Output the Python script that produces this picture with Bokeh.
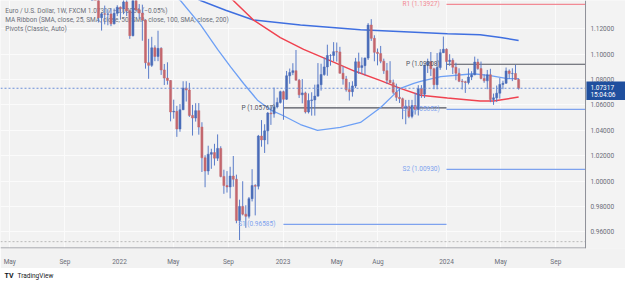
import pandas as pd
from bokeh.plotting import figure
from bokeh.models import (ColumnDataSource, FixedTicker, Label, Range1d)
from bokeh.core.properties import value
from bokeh.layouts import column
from bokeh.embed import file_html
from bokeh.resources import INLINE

# ---------------- data (EUR/USD weekly) ----------------
first_week = "2021-11-01"
opens = [1.1558,1.1567,1.1445,1.1288,1.1318,1.1315,1.1317,1.1239,1.1322,
         1.1370,1.1359,1.1412,1.1342,1.1146,1.1451,1.1350,1.1324,1.1270,1.0933,1.0912,1.1050,1.0982,
         1.1046,1.0876,1.0812,1.0793,1.0545,1.0550,1.0411,1.0562,1.0733,1.0718,1.0518,1.0497,1.0555,
         1.0426,1.0184,1.0080,1.0212,1.0225,1.0181,1.0258,1.0037,0.9965,0.9954,1.0040,1.0015,0.9690,
         0.9801,0.9740,0.9723,0.9862,0.9965,0.9960,1.0355,1.0325,1.0396,1.0536,1.0530,1.0585,1.0620,
         1.0705,1.0645,1.0830,1.0855,1.0870,1.0795,1.0680,1.0695,1.0545,1.0635,1.0640,1.0670,1.0760,
         1.0840,1.0900,1.0990,1.0990,1.1020,1.1018,1.0850,1.0805,1.0720,1.0705,1.0750,1.0940,1.0895,
         1.0910,1.0970,1.1230,1.1125,1.1015,1.1005,1.0945,1.0870,1.0795,1.0775,1.0700,1.0660,1.0650,
         1.0575,1.0590,1.0510,1.0595,1.0565,1.0730,1.0685,1.0915,1.0940,1.0885,1.0760,1.0895,1.1012,
         1.1039,1.0942,1.0952,1.0897,1.0850,1.0787,1.0783,1.0777,1.0820,1.0838,1.0938,1.0887,1.0808,
         1.0790,1.0838,1.0643,1.0656,1.0693,1.0762,1.0771,1.0868,1.0847,1.0848,1.0801]
highs = [1.1616,1.1608,1.1464,1.1328,1.1383,1.1355,1.1360,1.1360,1.1386,
         1.1376,1.1482,1.1436,1.1346,1.1483,1.1495,1.1395,1.1390,1.1275,1.1121,1.1137,1.1070,1.1185,
         1.1055,1.0923,1.0936,1.0796,1.0642,1.0593,1.0607,1.0787,1.0787,1.0774,1.0601,1.0614,1.0615,
         1.0464,1.0204,1.0279,1.0255,1.0294,1.0368,1.0275,1.0090,1.0079,1.0113,1.0198,1.0051,0.9854,
         0.9999,0.9810,0.9875,1.0094,0.9976,1.0364,1.0481,1.0448,1.0545,1.0595,1.0737,1.0658,1.0713,
         1.0713,1.0868,1.0887,1.0929,1.1033,1.0805,1.0804,1.0705,1.0691,1.0700,1.0760,1.0930,1.0925,
         1.0973,1.1075,1.1000,1.1095,1.1092,1.1058,1.0904,1.0829,1.0780,1.0787,1.0971,1.1012,1.0975,
         1.0973,1.1245,1.1276,1.1149,1.1045,1.1065,1.0965,1.0931,1.0945,1.0800,1.0768,1.0736,1.0658,
         1.0640,1.0640,1.0640,1.0695,1.0756,1.0756,1.0918,1.0965,1.1017,1.0894,1.1009,1.1040,1.1139,
         1.1046,1.1000,1.0968,1.0933,1.0889,1.0805,1.0790,1.0888,1.0866,1.0981,1.0964,1.0942,1.0842,
         1.0876,1.0885,1.0690,1.0753,1.0812,1.0791,1.0895,1.0880,1.0889,1.0916,1.0810]
lows = [1.1513,1.1432,1.1250,1.1186,1.1235,1.1228,1.1221,1.1235,1.1300,
        1.1272,1.1315,1.1301,1.1121,1.1140,1.1340,1.1280,1.1106,1.0886,1.0806,1.0900,1.0945,1.0945,
        1.0837,1.0757,1.0760,1.0471,1.0492,1.0349,1.0389,1.0560,1.0627,1.0506,1.0359,1.0469,1.0366,
        1.0072,0.9952,1.0050,1.0097,1.0123,1.0159,1.0030,0.9900,0.9910,0.9864,0.9956,0.9668,0.9536,
        0.9730,0.9632,0.9706,0.9840,0.9730,0.9935,1.0271,1.0222,1.0290,1.0443,1.0500,1.0573,1.0611,
        1.0483,1.0640,1.0767,1.0835,1.0794,1.0655,1.0613,1.0533,1.0533,1.0516,1.0516,1.0665,1.0713,
        1.0830,1.0830,1.0910,1.0943,1.0942,1.0848,1.0760,1.0705,1.0635,1.0666,1.0733,1.0845,1.0844,
        1.0833,1.0955,1.1105,1.0944,1.0912,1.0929,1.0845,1.0765,1.0772,1.0686,1.0632,1.0616,1.0488,
        1.0448,1.0496,1.0495,1.0524,1.0517,1.0656,1.0655,1.0852,1.0828,1.0724,1.0723,1.0877,1.1009,
        1.0877,1.0908,1.0844,1.0795,1.0780,1.0722,1.0695,1.0762,1.0796,1.0834,1.0877,1.0802,1.0775,
        1.0724,1.0622,1.0601,1.0624,1.0650,1.0724,1.0767,1.0805,1.0788,1.0800,1.0721]
closes = [1.1567,1.1445,1.1288,1.1318,1.1315,1.1317,1.1239,1.1322,1.1370,
          1.1359,1.1412,1.1342,1.1146,1.1451,1.1350,1.1324,1.1270,1.0933,1.0912,1.1050,1.0982,1.1046,
          1.0876,1.0812,1.0793,1.0545,1.0550,1.0411,1.0562,1.0733,1.0718,1.0518,1.0497,1.0555,1.0426,
          1.0184,1.0080,1.0212,1.0225,1.0181,1.0258,1.0037,0.9965,0.9954,1.0040,1.0015,0.9690,0.9801,
          0.9740,0.9723,0.9862,0.9965,0.9960,1.0355,1.0325,1.0396,1.0536,1.0530,1.0585,1.0620,1.0705,
          1.0645,1.0830,1.0855,1.0870,1.0795,1.0680,1.0695,1.0545,1.0635,1.0640,1.0670,1.0760,1.0840,
          1.0900,1.0990,1.0990,1.1020,1.1018,1.0850,1.0805,1.0720,1.0705,1.0750,1.0940,1.0895,1.0910,
          1.0970,1.1230,1.1125,1.1015,1.1005,1.0945,1.0870,1.0795,1.0775,1.0700,1.0660,1.0650,1.0575,
          1.0590,1.0510,1.0595,1.0565,1.0730,1.0685,1.0915,1.0940,1.0885,1.0760,1.0895,1.1012,1.1039,
          1.0942,1.0952,1.0897,1.0850,1.0787,1.0783,1.0777,1.0820,1.0838,1.0938,1.0887,1.0808,1.0790,
          1.0838,1.0643,1.0656,1.0693,1.0762,1.0771,1.0868,1.0847,1.0848,1.0801,1.07317]

# Moving-average ribbon
ma_fast_dates = ["2022-05-06","2022-05-17","2022-07-01","2022-08-08","2022-09-06","2022-10-05",
                 "2022-11-05","2022-12-04","2023-01-02","2023-02-09","2023-03-19","2023-05-09",
                 "2023-06-23","2023-08-07","2023-09-20","2023-10-20","2023-11-04","2023-12-19",
                 "2024-03-01","2024-04-08","2024-05-16","2024-06-10"]
ma_fast_vals = [1.1446,1.1423,1.1231,1.1038,1.0900,1.0769,1.0638,1.0562,1.0515,1.0446,1.0400,
                1.0423,1.0462,1.0580,1.0731,1.0770,1.0785,1.0823,1.0846,1.0831,1.0808,1.0808]
ma_mid_dates = ["2022-09-01","2022-09-12","2022-10-27","2022-12-26","2023-02-16","2023-04-24",
                "2023-06-08","2023-08-07","2023-09-20","2023-11-04","2024-01-03","2024-03-16",
                "2024-04-15","2024-06-10"]
ma_mid_vals = [1.1454,1.1423,1.1269,1.1131,1.1038,1.0938,1.0869,1.0792,1.0731,1.0677,1.0654,
               1.0631,1.0631,1.0662]
ma_slow_dates = ["2022-06-08","2022-07-01","2022-08-26","2022-10-27","2023-02-09","2023-06-23",
                 "2024-01-03","2024-03-16","2024-05-01","2024-06-10"]
ma_slow_vals = [1.1462,1.1423,1.1346,1.1269,1.1231,1.1192,1.1162,1.1154,1.1131,1.1108]

# Yearly classic pivots
piv23_names = ["P", "S1"]
piv23_vals = [1.05767, 0.96585]
piv24_names = ["R1", "P", "S1", "S2"]
piv24_vals = [1.13927, 1.09208, 1.05652, 1.00930]
last_price = 1.07317
last_time = "15:04:06"
range_low = 0.9523

y_ticks = [0.96, 0.98, 1.00, 1.02, 1.04, 1.06, 1.08, 1.10, 1.12]
x_tick_dates = ["2021-05-01","2021-09-01","2022-01-01","2022-05-01","2022-09-01","2023-01-01",
                "2023-05-01","2023-08-01","2024-01-01","2024-05-01","2024-09-01"]
x_tick_labels = ["May","Sep","2022","May","Sep","2023","May","Aug","2024","May","Sep"]

# ---------------- build ----------------
DAY = 86400000
weeks = pd.date_range(first_week, periods=len(closes), freq="7D")
inc = [c >= o for o, c in zip(opens, closes)]
src = ColumnDataSource(dict(
    x=weeks, o=opens, h=highs, l=lows, c=closes,
    top=[max(o, c) for o, c in zip(opens, closes)],
    bot=[min(o, c) for o, c in zip(opens, closes)],
    col=["#4a6cb8" if u else "#c4676d" for u in inc],
))

Y0, Y1 = 0.94692, 1.14231
x0 = pd.Timestamp("2021-04-10 08:00")      # left edge of chart
xs = pd.Timestamp("2024-11-06 08:00")      # price-scale boundary
xe = pd.Timestamp("2025-02-03 14:00")      # right edge of the price scale
p = figure(width=625, height=268, x_axis_type="datetime", y_axis_location=None,
           x_range=Range1d(x0, xe), y_range=Range1d(Y0, Y1),
           output_backend="svg", toolbar_location=None,
           min_border_left=0, min_border_top=0, min_border_right=0, min_border_bottom=14,
           background_fill_color="#f2f2f2", border_fill_color="#f2f2f2", outline_line_color=None)

tick_ms = [pd.Timestamp(d).value // 10**6 for d in x_tick_dates]
ax = p.xaxis[0]
ax.ticker = FixedTicker(ticks=tick_ms)
ax.major_label_overrides = {t: s for t, s in zip(tick_ms, x_tick_labels)}
ax.major_tick_line_color = None
ax.minor_tick_line_color = None
ax.axis_line_color = None
ax.major_label_text_font = "Roboto"
ax.major_label_text_font_size = "6.5px"
ax.major_label_text_color = "#6a6d78"
ax.major_label_standoff = 3
p.xgrid.ticker = FixedTicker(ticks=tick_ms)
p.ygrid.ticker = FixedTicker(ticks=y_ticks)
p.grid.grid_line_color = "#fbfbfb"
p.grid.grid_line_width = 1

# legend texts (under the candles)
lx = pd.Timestamp("2021-04-21")
legend_lines = [
    "Euro / U.S. Dollar, 1W, FXCM  1.07317  \u22120.00056 (\u22120.05%)",
    "MA Ribbon (SMA, close, 25, SMA, close, 50, SMA, close, 100, SMA, close, 200)",
    "Pivots (Classic, Auto)",
]
for i, t in enumerate(legend_lines):
    p.add_layout(Label(x=lx, y=1.13385 - i * 0.00692, text=t, text_font="Roboto",
                       text_font_size="6.5px", text_color="#6a6d78", text_baseline="middle",
                       level="underlay"))

# pivots
pc = {"P": "#50535e", "R1": "#f28a95", "S1": "#7ea2ee", "S2": "#7ea2ee"}
y23s = pd.Timestamp("2023-01-02")
y24s = pd.Timestamp("2024-01-01")
for n, v in zip(piv23_names, piv23_vals):
    p.segment(x0=[y23s], x1=[y24s], y0=[v], y1=[v], line_color=pc[n], line_width=1.2)
    p.add_layout(Label(x=y23s - pd.Timedelta(days=18), y=v, text=f"{n} ({v:.5f})",
                       text_align="right", text_baseline="middle", text_font="Roboto",
                       text_font_size="6.5px", text_color=pc[n]))
for n, v in zip(piv24_names, piv24_vals):
    p.segment(x0=[y24s], x1=[xs], y0=[v], y1=[v], line_color=pc[n], line_width=1.2)
    p.add_layout(Label(x=y24s - pd.Timedelta(days=15), y=v, text=f"{n} ({v:.5f})",
                       text_align="right", text_baseline="middle", text_font="Roboto",
                       text_font_size="6.5px", text_color=pc[n]))

# moving averages
p.line(pd.to_datetime(ma_slow_dates), ma_slow_vals, line_color="#3f6fe0", line_width=1.5)
p.line(pd.to_datetime(ma_fast_dates), ma_fast_vals, line_color="#6ea0f5", line_width=1.3)
p.line(pd.to_datetime(ma_mid_dates), ma_mid_vals, line_color="#f0424f", line_width=1.5)

# candles
p.segment(x0="x", x1="x", y0="h", y1="l", source=src, line_color="#5a7cc9", line_width=1)
p.vbar(x="x", width=4.6 * DAY, top="top", bottom="bot", source=src,
       fill_color="col", line_color="col", line_width=0.5)

# price lines
p.segment(x0=[x0], x1=[xs], y0=[last_price], y1=[last_price], line_color="#6b8fd8",
          line_dash="2 2", line_width=1)
p.segment(x0=[x0], x1=[xs], y0=[range_low], y1=[range_low], line_color="#b8b8b8",
          line_dash="2 2", line_width=1)

# ---- price scale (right strip) ----
p.quad(left=[xs], right=[xe], bottom=[Y0], top=[Y1], fill_color="#f3f3f3", line_color=None)
p.segment(x0=[xs], x1=[xs], y0=[Y0], y1=[Y1], line_color="#8f9199", line_width=1)
p.segment(x0=[x0], x1=[xs], y0=[Y0 + 0.0004], y1=[Y0 + 0.0004], line_color="#8f9199", line_width=1)
lab_x = xs + pd.Timedelta(days=11)
p.text(x=[lab_x] * len(y_ticks), y=y_ticks, text=[f"{v:.5f}" for v in y_ticks],
       text_font=value("Roboto"), text_font_size="6.5px", text_color="#6a6d78",
       text_baseline="middle")
# last-price tag
p.quad(left=[xs + pd.Timedelta(days=2)], right=[xe], bottom=[1.06385], top=[1.07846],
       fill_color="#1f4f9e", line_color=None)
p.text(x=[lab_x, lab_x], y=[1.07385, 1.06769], text=[f"{last_price:.5f}", last_time],
       text_font=value("Roboto"), text_font_size="6.5px", text_color="white",
       text_baseline="middle")

# bottom strip with TradingView attribution
p2 = figure(width=625, height=19, x_range=Range1d(0, 625), y_range=Range1d(19, 0),
            output_backend="svg", toolbar_location=None, min_border=0,
            background_fill_color="white", border_fill_color="white", outline_line_color=None,
            x_axis_type=None, y_axis_type=None)
p2.grid.visible = False
p2.add_layout(Label(x=4, y=7, text="TV", text_font="Roboto", text_font_style="bold",
                    text_font_size="7px", text_color="#131722", text_baseline="middle"))
p2.add_layout(Label(x=17, y=7, text="TradingView", text_font="Roboto",
                    text_font_size="6.5px", text_color="#131722", text_baseline="middle"))

layout = column(p, p2, spacing=0)
open("out.html", "w").write(file_html(layout, INLINE))
